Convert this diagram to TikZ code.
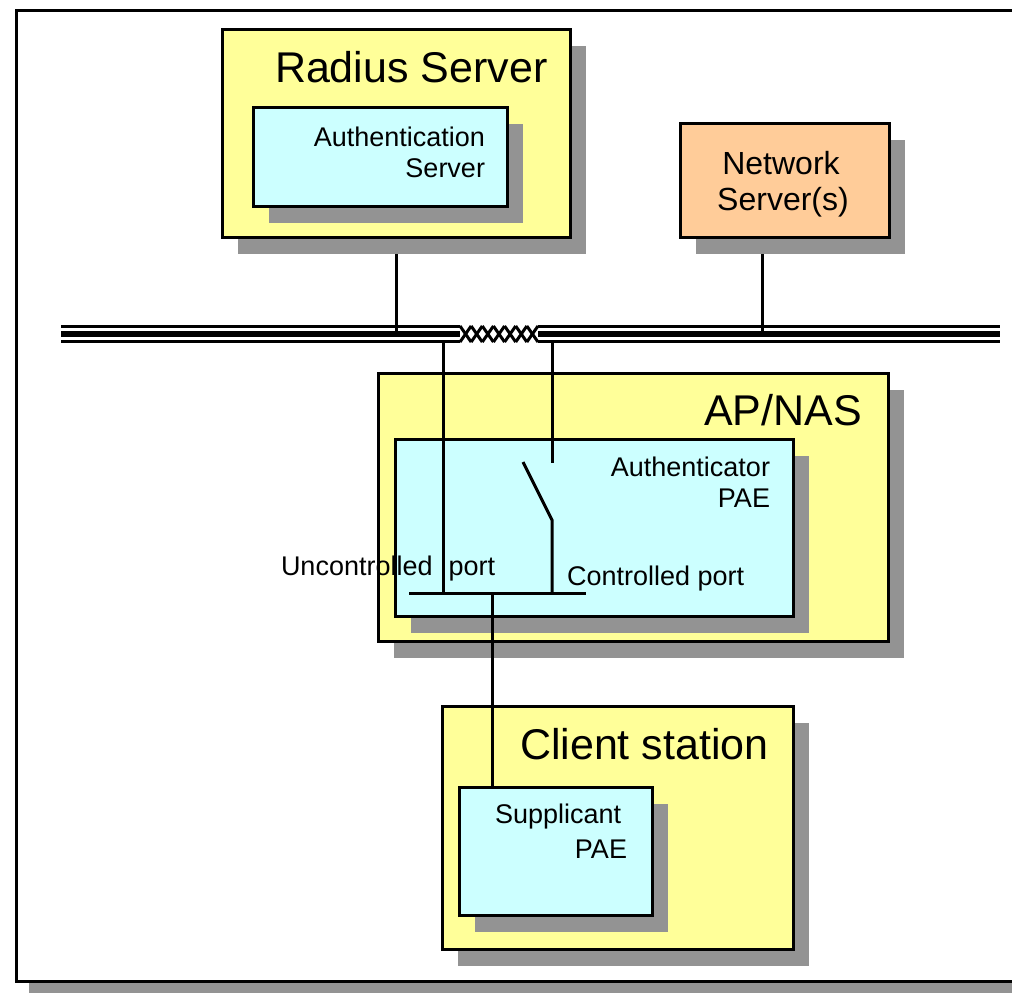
\documentclass[tikz,border=0pt]{standalone}
\usepackage{fontspec}
\setmainfont{Liberation Sans}
\usetikzlibrary{shadows}
\definecolor{yfill}{HTML}{FFFF99}
\definecolor{cfill}{HTML}{CCFFFF}
\definecolor{pfill}{HTML}{FFCC99}
\definecolor{shgray}{HTML}{939393}
\newcommand\fbig{\fontsize{43}{43}\selectfont}
\newcommand\fmid{\fontsize{27}{27}\selectfont}
\newcommand\fnet{\fontsize{32}{32}\selectfont}
\tikzset{
  boxbase/.style={draw=black, line width=3pt, anchor=north west, inner sep=0pt, outer sep=0pt,
    drop shadow={shadow xshift=16pt, shadow yshift=-17pt, fill=shgray, opacity=1}},
  ybox/.style={boxbase, fill=yfill},
  cbox/.style={boxbase, fill=cfill},
  pbox/.style={boxbase, fill=pfill},
  lbl/.style={inner sep=0pt, outer sep=0pt, text=black},
  wire/.style={line width=3pt, line cap=rect},
  thinbus/.style={line width=3pt},
  thickbus/.style={line width=6pt},
}
\begin{document}
\begin{tikzpicture}[x=1pt,y=-1pt]
\useasboundingbox (0,0) rectangle (1012,994);
\clip (0,0) rectangle (1012,994);
% outer frame
\node[draw=black, line width=3pt, fill=white, anchor=north west, inner sep=0pt, outer sep=0pt,
  minimum width=1040pt, minimum height=971pt,
  drop shadow={shadow xshift=13pt, shadow yshift=-12pt, fill=shgray, opacity=1}] (frame) at (16,10) {};
% bus
\coordinate (busL) at (61,334);
\coordinate (brL) at (460,334);
\coordinate (brR) at (538,334);
\coordinate (busR) at (1000,334);
\draw[thickbus] (busL) -- (brL);
\draw[thickbus] (brR) -- (busR);
\draw[thinbus] ([yshift=8pt]busL) -- ([yshift=8pt]brL);
\draw[thinbus] ([yshift=8pt]brR) -- ([yshift=8pt]busR);
\draw[thinbus] ([yshift=-7.5pt]busL) -- ([yshift=-7.5pt]brL);
\draw[thinbus] ([yshift=-7.5pt]brR) -- ([yshift=-7.5pt]busR);
\foreach \i in {0,...,6}{
  \draw[line width=3pt] (460+11.14*\i,326) -- (460+11.14*\i+11.14,342);
  \draw[line width=3pt] (460+11.14*\i,342) -- (460+11.14*\i+11.14,326);
}
% taps from upper servers (behind shadows)
\coordinate (radTap) at (396,334);
\coordinate (netTap) at (762,334);
\draw[wire] (radTap) -- (396,237);
\draw[wire] (netTap) -- (762,237);
% boxes
\node[ybox, minimum width=348pt, minimum height=208pt] (radius) at (222,29) {};
\node[cbox, minimum width=254pt, minimum height=99pt] (auth) at (253,107) {};
\node[pbox, minimum width=209pt, minimum height=114pt] (netsrv) at (680,123) {};
\node[ybox, minimum width=510pt, minimum height=268pt] (apnas) at (378,373) {};
\node[cbox, minimum width=398pt, minimum height=177pt] (authpae) at (395,439) {};
\node[ybox, minimum width=351pt, minimum height=243pt] (client) at (442,706) {};
\node[cbox, minimum width=193pt, minimum height=128pt] (supp) at (459,787) {};
% labels
\node[lbl, font=\fbig, anchor=base west] (tRadius) at (275,82) {Radius Server};
\node[lbl, font=\fmid, anchor=base east] (tAuth1) at (485,146) {Authentication};
\node[lbl, font=\fmid, anchor=base east] (tAuth2) at (485,177) {Server};
\node[lbl, font=\fnet, anchor=base] (tNet1) at (781,174) {Network};
\node[lbl, font=\fnet, anchor=base] (tNet2) at (783,210) {Server(s)};
\node[lbl, font=\fbig, anchor=base east] (tAP) at (862,425) {AP/NAS};
\node[lbl, font=\fmid, anchor=base east] (tPae1) at (770,476) {Authenticator};
\node[lbl, font=\fmid, anchor=base east] (tPae2) at (770,507) {PAE};
\node[lbl, font=\fmid, anchor=base west] (tUnc) at (281,575) {Uncontrolled\hspace{16pt}port};
\node[lbl, font=\fmid, anchor=base west] (tCon) at (567,585) {Controlled port};
\node[lbl, font=\fbig, anchor=base west] (tClient) at (520,759) {Client station};
\node[lbl, font=\fmid, anchor=base west] (tSup1) at (495,823) {Supplicant};
\node[lbl, font=\fmid, anchor=base east] (tSup2) at (627,858) {PAE};
% port wiring
\coordinate (uncTop) at (443,342);
\coordinate (conTop) at (552,342);
\coordinate (conEnd) at (552,463);
\coordinate (swA) at (523,462);
\coordinate (swB) at (552,520);
\coordinate (barL) at (409,593);
\coordinate (barR) at (586,593);
\coordinate (barMid) at (492,593);
\draw[line width=3pt] (barL) -- (barR);
\draw[line width=3pt] (uncTop) -- (uncTop |- barL);
\draw[line width=3pt] (conTop) -- (conEnd);
\draw[line width=3pt] (swA) -- (swB) -- (swB |- barL);
\draw[line width=3pt] (barMid) -- (barMid |- supp.north);
\end{tikzpicture}
\end{document}
